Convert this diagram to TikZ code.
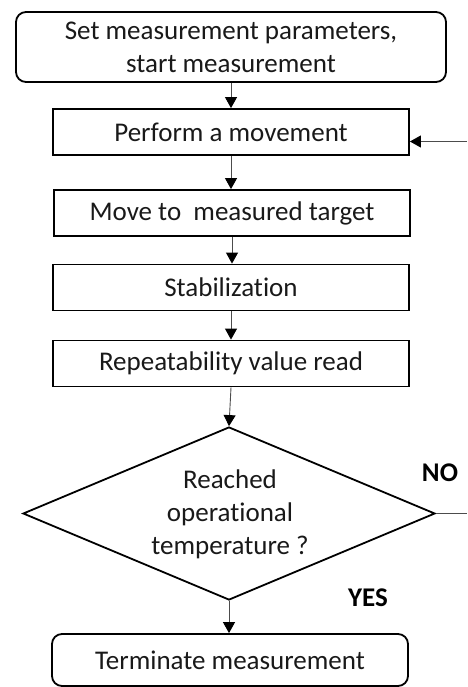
\documentclass[tikz,border=0pt]{standalone}
\usepackage{fontspec}
\setmainfont[Ligatures=NoCommon]{Carlito}
\usetikzlibrary{shapes.geometric,arrows.meta}
\begin{document}
\begin{tikzpicture}[x=1pt,y=-1pt,
  box/.style={draw=black,line width=1.8pt,rectangle,minimum width=356pt,minimum height=46pt,inner sep=0pt,font=\fontsize{27}{33}\selectfont,text=black!90},
  rbox/.style={box,rounded corners=10pt},
  dec/.style={draw=black,line width=1.8pt,diamond,minimum width=412pt,minimum height=173pt,inner sep=0pt},
  dectext/.style={align=center,inner sep=0pt,font=\fontsize{27}{33}\selectfont,text=black!90},
  conn/.style={draw=black!70,line width=0.9pt,-{Triangle[width=12pt,length=11pt,fill=black,color=black]}},
  plain/.style={draw=black!70,line width=0.9pt},
  lbl/.style={font=\fontsize{27}{30}\selectfont\bfseries,text=black}]
\useasboundingbox (0,0) rectangle (467,687);
\node[rbox,minimum width=430pt,minimum height=70pt,align=center] (start) at (231,47) {Set measurement parameters,\\start measurement};
\node[box] (perf) at (231,132) {Perform a movement};
\node[box] (move) at (232,213) {Move to\ \ measured target};
\node[box] (stab) at (231,287.5) {Stabilization};
\node[box] (rep) at (231,363.5) {Repeatability value read};
\node[dec] (dec) at (229,513.5) {};
\node[dectext] (dect) at (230,514) {Reached\\operational\\temperature ?};
\node[rbox,minimum height=52pt] (term) at (230,660) {Terminate measurement};
\node[lbl] (no) at (440,473) {NO};
\node[lbl] (yes) at (368,598) {YES};
\coordinate (rin) at (467,141.5);
\coordinate (rout) at (467,513.5);
\draw[conn] (start.south -| perf.north) -- (perf.north);
\draw[conn] (perf.south) -- (perf.south |- move.north);
\draw[conn] (move.south) -- (move.south |- stab.north);
\draw[conn] (stab.south) -- (stab.north |- rep.north);
\draw[conn] (rep.south) -- (dec.north);
\draw[conn] (dec.south) -- (dec.south |- term.north);
\draw[conn] (rin) -- (rin -| perf.east);
\draw[plain] (dec.east) -- (rout);
\end{tikzpicture}
\end{document}
